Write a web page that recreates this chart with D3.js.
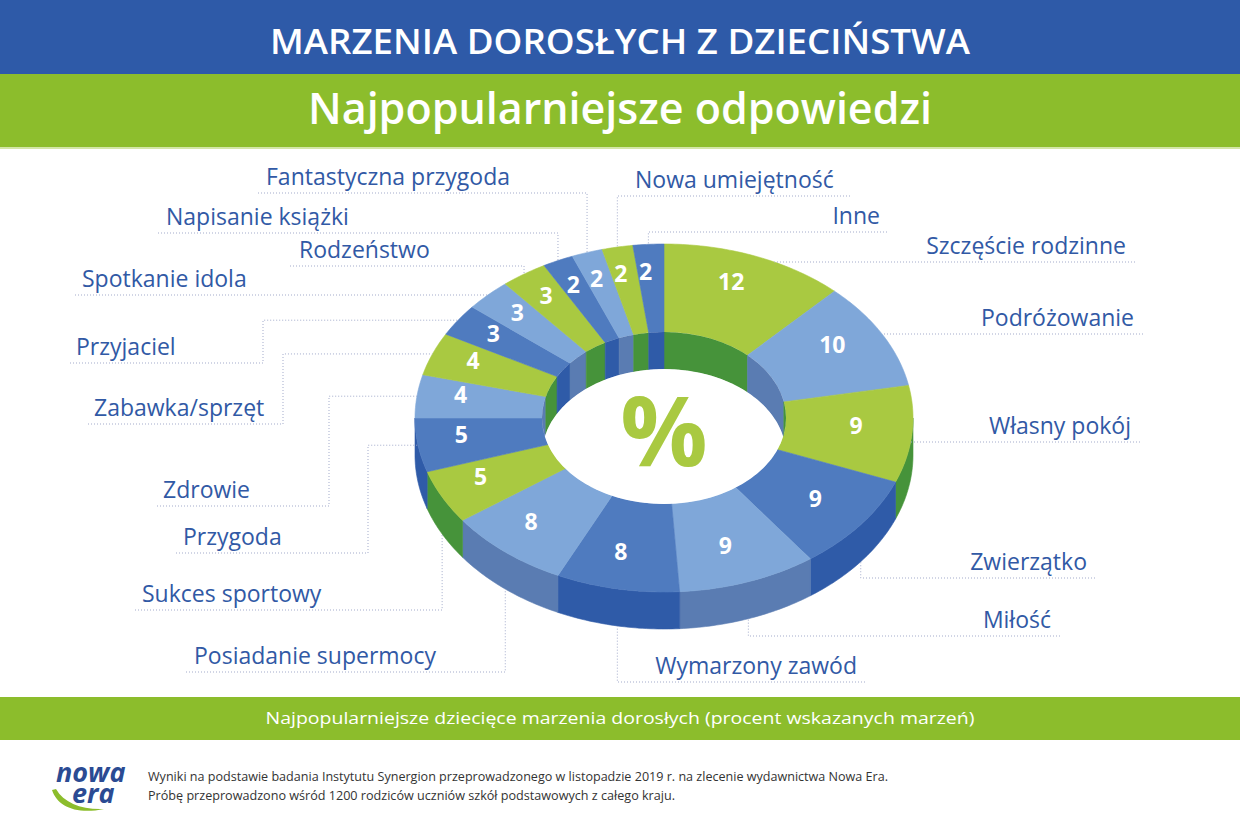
<!DOCTYPE html>
<html>
<head>
<meta charset="utf-8">
<script src="https://cdn.jsdelivr.net/npm/d3@7"></script>
<style>
  body { margin: 0; background: #fff; }
  svg { display: block; }
  text { font-family: "Open Sans", sans-serif; }
</style>
</head>
<body>
<svg id="chart" width="1240" height="827"></svg>
<script>
// dane: odpowiedzi w kolejnosci zgodnej z ruchem wskazowek zegara, od gory
var labels = ["Szczęście rodzinne", "Podróżowanie", "Własny pokój", "Zwierzątko", "Miłość",
              "Wymarzony zawód", "Posiadanie supermocy", "Sukces sportowy", "Przygoda", "Zdrowie",
              "Zabawka/sprzęt", "Przyjaciel", "Spotkanie idola", "Rodzeństwo", "Napisanie książki",
              "Fantastyczna przygoda", "Nowa umiejętność", "Inne"];
var values = [12, 10, 9, 9, 9, 8, 8, 5, 5, 4, 4, 3, 3, 3, 2, 2, 2, 2];
var tones  = ["g", "l", "g", "d", "l", "d", "l", "g", "d", "l", "g", "d", "l", "g", "d", "l", "g", "d"];

var titleText = "MARZENIA DOROSŁYCH Z DZIECIŃSTWA";
var subtitleText = "Najpopularniejsze odpowiedzi";
var captionText = "Najpopularniejsze dziecięce marzenia dorosłych (procent wskazanych marzeń)";
var footLines = ["Wyniki na podstawie badania Instytutu Synergion przeprowadzonego w listopadzie 2019 r. na zlecenie wydawnictwa Nowa Era.",
                 "Próbę przeprowadzono wśród 1200 rodziców uczniów szkół podstawowych z całego kraju."];

// rozmieszczenie podpisow (uklad, nie dane)
var labelLayout = [
  {tx: 1126, a: "end",   uy: 262, u1: 1135, route: "h"},
  {tx: 1134, a: "end",   uy: 334, u1: 1143, route: "h"},
  {tx: 1131, a: "end",   uy: 442, u1: 1140, route: "h"},
  {tx: 1087, a: "end",   uy: 578, u1: 1095, route: "up"},
  {tx: 1051, a: "end",   uy: 636, u1: 1060, route: "up"},
  {tx: 857,  a: "end",   uy: 682, u1: 865,  route: "up"},
  {tx: 194,  a: "start", uy: 672, u0: 186,  route: "up"},
  {tx: 142,  a: "start", uy: 610, u0: 135,  route: "up"},
  {tx: 183,  a: "start", uy: 553, u0: 176,  route: "elbow", ex: 368},
  {tx: 163,  a: "start", uy: 506, u0: 157,  route: "elbow", ex: 329},
  {tx: 94,   a: "start", uy: 424, u0: 88,   route: "elbow", ex: 283},
  {tx: 76,   a: "start", uy: 363, u0: 70,   route: "elbow", ex: 263},
  {tx: 82,   a: "start", uy: 295, u0: 75,   route: "h"},
  {tx: 299,  a: "start", uy: 266, u0: 290,  route: "down"},
  {tx: 166,  a: "start", uy: 233, u0: 158,  route: "down"},
  {tx: 266,  a: "start", uy: 193, u0: 258,  route: "down"},
  {tx: 635,  a: "start", uy: 196, u1: 850,  route: "down"},
  {tx: 880,  a: "end",   uy: 232, u1: 887,  route: "down"}
];

var topColor  = {g: "#a9c941", l: "#7fa7d9", d: "#4f7bbf"};
var sideColor = {g: "#46933a", l: "#5a7cb2", d: "#2f5ba8"};
var blue = "#2e5aa8", green = "#8cbd2c", labelBlue = "#3159a5";

var cx = 664, cy = 418, rx = 249, ry = 174, irx = 122, iry = 86, depth = 37;
var lcx = 658, lcy = 413, lrx = 199, lry = 141;

var svg = d3.select("#chart");

// naglowek
svg.append("rect").attr("x", 0).attr("y", 0).attr("width", 1240).attr("height", 74).attr("fill", blue);
svg.append("rect").attr("x", 0).attr("y", 74).attr("width", 1240).attr("height", 73).attr("fill", green);
svg.append("rect").attr("x", 0).attr("y", 147).attr("width", 1240).attr("height", 2).attr("fill", "#d3e6a8");
svg.append("text").attr("x", 620).attr("y", 54).attr("text-anchor", "middle")
   .attr("font-size", 35).attr("font-weight", 600).attr("fill", "#fff")
   .attr("textLength", 700).attr("lengthAdjust", "spacingAndGlyphs").text(titleText);
svg.append("text").attr("x", 620).attr("y", 124).attr("text-anchor", "middle")
   .attr("font-size", 44).attr("font-weight", 600).attr("fill", "#fff")
   .attr("textLength", 624).attr("lengthAdjust", "spacingAndGlyphs").text(subtitleText);

// geometria pierscienia
function pt(a, rxx, ryy, dy) {
  return [cx + rxx * Math.sin(a), cy - ryy * Math.cos(a) + (dy || 0)];
}
function arcPts(a0, a1, rxx, ryy, dy) {
  var n = Math.max(2, Math.ceil(Math.abs(a1 - a0) / 0.015));
  return d3.range(n + 1).map(function(i) { return pt(a0 + (a1 - a0) * i / n, rxx, ryy, dy); });
}
function band(a0, a1, rxx, ryy) {
  return arcPts(a0, a1, rxx, ryy, 0).concat(arcPts(a1, a0, rxx, ryy, depth));
}
var line = d3.line().curve(d3.curveLinearClosed);

var arcs = d3.pie().sort(null).value(function(d) { return d; })(values);
arcs.forEach(function(d, i) { d.tone = tones[i]; d.label = labels[i]; d.mid = (d.startAngle + d.endAngle) / 2; });

var g = svg.append("g");

// sciana zewnetrzna (przednia polowa)
g.selectAll("path.side").data(arcs.filter(function(d) {
    return d.endAngle > Math.PI / 2 && d.startAngle < 3 * Math.PI / 2; }))
  .enter().append("path").attr("class", "side")
  .attr("d", function(d) {
    var s = Math.max(d.startAngle, Math.PI / 2), e = Math.min(d.endAngle, 3 * Math.PI / 2);
    return line(band(s, e, rx, ry));
  })
  .attr("fill", function(d) { return sideColor[d.tone]; })
  .attr("stroke", function(d) { return sideColor[d.tone]; }).attr("stroke-width", 0.6);

// gorna powierzchnia
g.selectAll("path.top").data(arcs).enter().append("path").attr("class", "top")
  .attr("d", function(d) {
    return line(arcPts(d.startAngle, d.endAngle, rx, ry, 0).concat(arcPts(d.endAngle, d.startAngle, irx, iry, 0)));
  })
  .attr("fill", function(d) { return topColor[d.tone]; })
  .attr("stroke", function(d) { return topColor[d.tone]; }).attr("stroke-width", 0.6);

// otwor: sciana wewnetrzna (tylna polowa) i dno
svg.append("clipPath").attr("id", "hole").append("ellipse")
   .attr("cx", cx).attr("cy", cy).attr("rx", irx).attr("ry", iry);
var hole = g.append("g").attr("clip-path", "url(#hole)");
var backParts = [];
arcs.forEach(function(d) {
  [[0, Math.PI / 2], [3 * Math.PI / 2, 2 * Math.PI]].forEach(function(r) {
    var s = Math.max(d.startAngle, r[0]), e = Math.min(d.endAngle, r[1]);
    if (s < e) backParts.push({s: s, e: e, tone: d.tone});
  });
});
hole.selectAll("path").data(backParts).enter().append("path")
  .attr("d", function(p) { return line(band(p.s, p.e, irx, iry)); })
  .attr("fill", function(p) { return sideColor[p.tone]; })
  .attr("stroke", function(p) { return sideColor[p.tone]; }).attr("stroke-width", 0.6);
hole.append("ellipse").attr("cx", cx).attr("cy", cy + depth).attr("rx", irx).attr("ry", iry).attr("fill", "#fff");

svg.append("text").attr("x", cx).attr("y", 466).attr("text-anchor", "middle")
   .attr("font-size", 97).attr("font-weight", 700).attr("fill", "#a9c941").text("%");

// wartosci
svg.selectAll("text.val").data(arcs).enter().append("text").attr("class", "val")
  .attr("x", function(d) { return lcx + lrx * Math.sin(d.mid); })
  .attr("y", function(d) { return lcy - lry * Math.cos(d.mid) + 8; })
  .attr("text-anchor", "middle").attr("font-size", 23).attr("font-weight", 700).attr("fill", "#fff")
  .text(function(d) { return d.data; });

// linie odniesienia i podpisy
function edgeX(y, side) {
  var t = (y - cy) / ry;
  return cx + side * rx * Math.sqrt(Math.max(0, 1 - t * t));
}
function edgeDy(x) {
  var t = (x - cx) / rx;
  return ry * Math.sqrt(Math.max(0, 1 - t * t));
}
function leader(d, L) {
  var pts = [];
  var side = L.a === "end" ? 1 : -1;
  if (L.route === "h") {
    var ex = edgeX(L.uy, side);
    pts = side < 0 ? [[L.u0, L.uy], [ex, L.uy]] : [[L.u1, L.uy], [ex, L.uy]];
  } else if (L.route === "down" || L.route === "up") {
    var vx = cx + rx * Math.sin(d.mid);
    var vy = L.route === "down" ? cy - edgeDy(vx) : cy + edgeDy(vx) + depth;
    var far = L.u0 !== undefined ? L.u0 : L.u1;
    pts = [[far, L.uy], [vx, L.uy], [vx, vy]];
  } else {
    var ey = cy - ry * Math.cos(d.mid);
    pts = [[L.u0, L.uy], [L.ex, L.uy], [L.ex, ey], [edgeX(ey, -1), ey]];
  }
  return d3.line()(pts);
}

var lab = svg.append("g");
lab.selectAll("path").data(arcs).enter().append("path")
  .attr("d", function(d, i) { return leader(d, labelLayout[i]); })
  .attr("fill", "none").attr("stroke", "#a3abcb").attr("stroke-width", 1)
  .attr("stroke-dasharray", "1,2");
lab.selectAll("text").data(arcs).enter().append("text")
  .attr("x", function(d, i) { return labelLayout[i].tx; })
  .attr("y", function(d, i) { return labelLayout[i].uy - 8; })
  .attr("text-anchor", function(d, i) { return labelLayout[i].a; })
  .attr("font-size", 23).attr("fill", labelBlue)
  .text(function(d) { return d.label; });

// pasek z opisem
svg.append("rect").attr("x", 0).attr("y", 697).attr("width", 1240).attr("height", 43).attr("fill", green);
svg.append("text").attr("x", 620).attr("y", 724).attr("text-anchor", "middle")
   .attr("font-size", 17).attr("fill", "#fff")
   .attr("textLength", 709).attr("lengthAdjust", "spacingAndGlyphs").text(captionText);

// stopka
var foot = svg.append("g");
foot.selectAll("text").data(footLines).enter().append("text")
  .attr("x", 148).attr("y", function(d, i) { return 781 + i * 19; })
  .attr("font-size", 12.5).attr("fill", "#333")
  .attr("textLength", function(d, i) { return i === 0 ? 740 : 527; })
  .attr("lengthAdjust", "spacingAndGlyphs")
  .text(function(d) { return d; });

// logo (jeden napis z dwoma liniami)
var logo = svg.append("g");
logo.append("path").attr("d", "M52,790 C57,806 76,815 104,809 C82,810 64,803 56,789 Z").attr("fill", "#8cbd2c");
var logoText = logo.append("text").attr("font-family", "Liberation Sans, sans-serif")
    .attr("font-size", 27).attr("font-weight", 700).attr("font-style", "italic").attr("fill", "#2b4b93");
logoText.append("tspan").attr("x", 56).attr("y", 782).text("nowa");
logoText.append("tspan").attr("x", 72).attr("y", 803).text("era");
</script>
</body>
</html>
